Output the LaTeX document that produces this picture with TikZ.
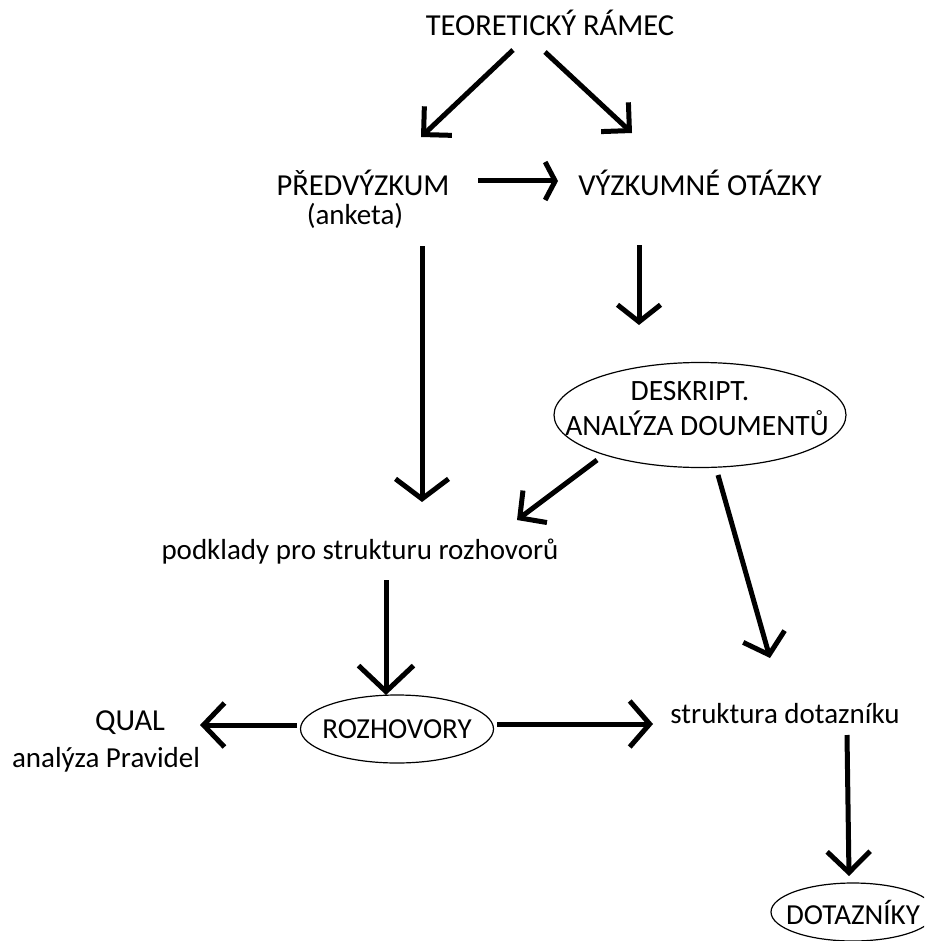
\documentclass[tikz,border=0pt]{standalone}
\usepackage{fontspec}
\setmainfont{Carlito}
\usetikzlibrary{arrows.meta,shapes.geometric,calc}
\begin{document}
\begin{tikzpicture}[x=1pt,y=-1pt,
  txt/.style={anchor=base, inner sep=0pt, font=\fontsize{29}{35}\selectfont, text=black},
  caps/.style={txt, font=\fontsize{30.5}{35}\selectfont},
  dcaps/.style={txt, font=\fontsize{29.5}{35}\selectfont},
  ell/.style={draw, ellipse, line width=1.2pt, inner sep=0pt, font=\fontsize{29}{35}\selectfont},
  arr/.style={line width=5pt, -{Straight Barb[length=20pt,width=46pt]}},
]
\useasboundingbox (0,0) rectangle (924,941);
\clip (0,0) rectangle (924,941);
% text nodes
\node[caps] (teo) at (550,36) {TEORETICKÝ RÁMEC};
\node[caps] (pred) at (363,196) {PŘEDVÝZKUM};
\node[txt] (anketa) at (355,225) {(anketa)};
\node[caps] (vyz) at (700,196) {VÝZKUMNÉ OTÁZKY};
\node[ell, minimum width=292pt, minimum height=105pt] (desk) at (700,415) {};
\node[dcaps] (desk1) at (690,400) {DESKRIPT.};
\node[dcaps] (desk2) at (697,435) {ANALÝZA DOUMENTŮ};
\node[txt] (pod) at (360,559) {podklady pro strukturu rozhovorů};
\node[ell, minimum width=193pt, minimum height=68pt] (rozh) at (397,729) {\makebox[0pt]{ROZHOVORY}};
\node[caps] (qual) at (130,730) {QUAL};
\node[txt] (prav) at (106,767) {analýza Pravidel};
\node[txt] (struk) at (785,723) {struktura dotazníku};
\node[ell, minimum width=164pt, minimum height=58pt] (dot) at (853,912) {\makebox[0pt]{DOTAZNÍKY}};
% connectors
\draw[arr, -{Straight Barb[length=20pt,width=40pt]}] ($(teo.base)+(-37,14)$) -- ($(pred.base)+(58,-59)$);
\draw[arr, -{Straight Barb[length=20pt,width=40pt]}] ($(teo.base)+(-5,16)$) -- ($(vyz.base)+(-68,-63)$);
\draw[arr, -{Straight Barb[length=10pt,width=38pt]}] ($(pred.base)+(115,-15)$) -- ($(vyz.base)+(-142,-15)$);
\draw[arr, -{Straight Barb[length=20pt,width=53pt]}] ($(pred.base)+(59,50)$) -- ($(pod.base)+(62,-57)$);
\draw[arr, -{Straight Barb[length=17pt,width=43pt]}] ($(vyz.base)+(-61,49)$) -- ($(desk.center)+(-61,-90)$);
\draw[arr, -{Straight Barb[length=19pt,width=40pt]}] ($(desk.center)+(-103,45)$) -- ($(pod.base)+(157,-39)$);
\draw[arr, -{Straight Barb[length=19pt,width=43pt]}] ($(desk.center)+(18,60)$) -- ($(struk.base)+(-15,-65)$);
\draw[arr, -{Straight Barb[length=26pt,width=55pt]}] ($(pod.base)+(26,21)$) -- ($(rozh.center)+(-11,-34)$);
\draw[arr, -{Straight Barb[length=21pt,width=44pt]}] ($(rozh.center)+(-100,-4)$) -- ($(qual.base)+(70,-5)$);
\draw[arr, -{Straight Barb[length=20pt,width=46pt]}] ($(rozh.center)+(100,-5)$) -- ($(struk.base)+(-132,1)$);
\draw[arr, -{Straight Barb[length=21pt,width=43pt]}] ($(struk.base)+(62,12)$) -- ($(dot.center)+(-4,-36)$);
\end{tikzpicture}
\end{document}
